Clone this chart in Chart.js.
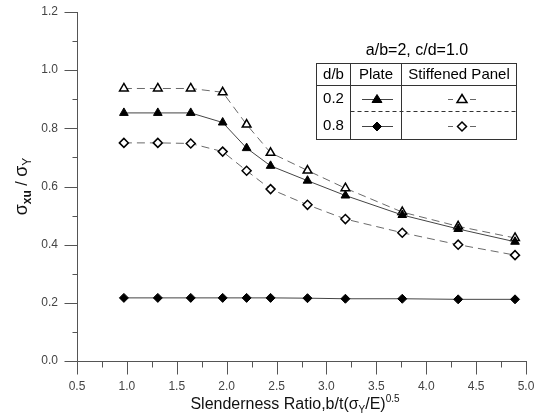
<!DOCTYPE html>
<html>
<head>
<meta charset="utf-8">
<script src="https://cdn.jsdelivr.net/npm/chart.js@4.4.0/dist/chart.umd.min.js"></script>
<style>
  html, body { margin: 0; padding: 0; background: #fff; }
</style>
</head>
<body>
<canvas id="myChart" width="534" height="418"></canvas>
<script>
// slenderness ratio b/t*sqrt(sy/E) of each analysis case
const slenderness = [0.97, 1.31, 1.64, 1.96, 2.20, 2.44, 2.81, 3.19, 3.76, 4.32, 4.89]
// ultimate strength sxu/sy
const plate02 = [0.853, 0.853, 0.853, 0.82, 0.732, 0.671, 0.62, 0.569, 0.502, 0.454, 0.41]
const panel02 = [0.937, 0.937, 0.937, 0.924, 0.813, 0.716, 0.655, 0.594, 0.512, 0.463, 0.423]
const plate08 = [0.217, 0.217, 0.217, 0.217, 0.217, 0.217, 0.216, 0.214, 0.214, 0.212, 0.212]
const panel08 = [0.75, 0.75, 0.748, 0.72, 0.654, 0.591, 0.537, 0.488, 0.441, 0.40, 0.364]

const xTicks = [0.5, 1.0, 1.5, 2.0, 2.5, 3.0, 3.5, 4.0, 4.5, 5.0]
const yTicks = [0.0, 0.2, 0.4, 0.6, 0.8, 1.0, 1.2]

const FONT = '"Liberation Sans", Arial, sans-serif'

function pts(ys) {
  return slenderness.map((x, i) => ({ x: x, y: ys[i] }))
}

function series(label, ys, style, filled, dashed) {
  return {
    label: label,
    data: pts(ys),
    borderColor: dashed ? '#6a6a6a' : '#444',
    borderWidth: 1,
    borderDash: dashed ? [8, 5] : [],
    pointStyle: style,
    pointRadius: style === 'triangle' ? 5 : 4.5,
    pointBackgroundColor: filled ? '#000' : '#fff',
    pointBorderColor: '#000',
    pointBorderWidth: filled ? 1 : 1.5,
    tension: 0,
  }
}

// axis lines with long major and short minor ticks
const axesPlugin = {
  id: 'axes',
  afterDraw(chart) {
    const ctx = chart.ctx
    const xs = chart.scales.x, ys = chart.scales.y
    const area = chart.chartArea
    const x0 = Math.round(area.left) + 0.5
    const y0 = Math.round(area.bottom) + 0.5
    ctx.save()
    ctx.strokeStyle = '#555'
    ctx.lineWidth = 1
    ctx.beginPath()
    ctx.moveTo(x0, Math.round(area.top))
    ctx.lineTo(x0, y0)
    ctx.lineTo(Math.round(area.right) + 1, y0)
    for (let v = 0; v <= 1.2001; v += 0.1) {
      const p = Math.round(ys.getPixelForValue(v)) + 0.5
      const major = Math.round(v * 10) % 2 === 0
      ctx.moveTo(x0 - (major ? 13 : 5), p)
      ctx.lineTo(x0, p)
    }
    for (let v = 0.5; v <= 5.0001; v += 0.25) {
      const p = Math.round(xs.getPixelForValue(v)) + 0.5
      const major = Math.round(v * 4) % 2 === 0
      ctx.moveTo(p, y0)
      ctx.lineTo(p, y0 + (major ? 13 : 6))
    }
    ctx.stroke()
    ctx.restore()
  },
}

// draws a run of text pieces: [text, size, dy, bold]
function drawRuns(ctx, runs, cx, baseline) {
  let total = 0
  runs.forEach(r => {
    ctx.font = (r[3] ? 'bold ' : '') + r[1] + 'px ' + FONT
    r.w = ctx.measureText(r[0]).width
    total += r.w
  })
  let x = cx - total / 2
  runs.forEach(r => {
    ctx.font = (r[3] ? 'bold ' : '') + r[1] + 'px ' + FONT
    ctx.fillText(r[0], x, baseline + r[2])
    x += r.w
  })
}

const titlesPlugin = {
  id: 'titles',
  afterDraw(chart) {
    const ctx = chart.ctx
    const area = chart.chartArea
    ctx.save()
    ctx.fillStyle = '#111'
    ctx.textBaseline = 'alphabetic'
    ctx.textAlign = 'left'
    drawRuns(ctx, [
      ['Slenderness Ratio,b/t(', 16, 0],
      ['\u03c3', 16, 0],
      ['Y', 10, 4],
      ['/E)', 16, 0],
      ['0.5', 10, -7],
    ], 295, 409)

    ctx.translate(27, (area.top + area.bottom) / 2)
    ctx.rotate(-Math.PI / 2)
    drawRuns(ctx, [
      ['\u03c3', 18, 0],
      ['xu', 12, 4, true],
      [' / ', 16, 0],
      ['\u03c3', 18, 0],
      ['Y', 12, 4],
    ], 0, 0)
    ctx.restore()
  },
}

function marker(ctx, style, x, y, filled) {
  ctx.save()
  ctx.fillStyle = filled ? '#000' : '#fff'
  ctx.strokeStyle = '#000'
  ctx.lineWidth = filled ? 1 : 1.5
  ctx.setLineDash([])
  ctx.beginPath()
  if (style === 'triangle') {
    const r = 5
    ctx.moveTo(x, y - r)
    ctx.lineTo(x + r * 0.866 * 1.15, y + r * 0.6)
    ctx.lineTo(x - r * 0.866 * 1.15, y + r * 0.6)
  } else {
    const r = 4.5
    ctx.moveTo(x, y - r)
    ctx.lineTo(x + r, y)
    ctx.lineTo(x, y + r)
    ctx.lineTo(x - r, y)
  }
  ctx.closePath()
  ctx.fill()
  ctx.stroke()
  ctx.restore()
}

// table-style legend in the upper right
const tablePlugin = {
  id: 'tableLegend',
  afterDraw(chart) {
    const ctx = chart.ctx
    const L = 316.5, R = 516.5, T = 63.5, B = 139.5
    const c1 = 350.5, c2 = 401.5, h1 = 85.5, h2 = 111.5
    ctx.save()
    ctx.fillStyle = '#000'
    ctx.textAlign = 'center'
    ctx.textBaseline = 'middle'
    ctx.font = '16px ' + FONT
    ctx.fillText('a/b=2, c/d=1.0', 417, 51)

    ctx.strokeStyle = '#333'
    ctx.lineWidth = 1
    ctx.strokeRect(L, T, R - L, B - T)
    ctx.beginPath()
    ctx.moveTo(c1, T); ctx.lineTo(c1, B)
    ctx.moveTo(c2, T); ctx.lineTo(c2, B)
    ctx.moveTo(L, h1); ctx.lineTo(R, h1)
    ctx.stroke()
    ctx.setLineDash([4, 3])
    ctx.beginPath()
    ctx.moveTo(c1, h2); ctx.lineTo(R, h2)
    ctx.stroke()
    ctx.setLineDash([])

    ctx.font = '15px ' + FONT
    ctx.fillText('d/b', (L + c1) / 2, 75)
    ctx.fillText('Plate', (c1 + c2) / 2, 75)
    ctx.fillText('Stiffened Panel', (c2 + R) / 2, 75)

    const rows = [['0.2', 'triangle', 99], ['0.8', 'rectRot', 126]]
    rows.forEach(row => {
      const y = row[2]
      ctx.fillStyle = '#000'
      ctx.fillText(row[0], (L + c1) / 2, y)
      ctx.strokeStyle = '#444'
      ctx.beginPath()
      ctx.moveTo(362, y + 0.5); ctx.lineTo(393, y + 0.5)
      ctx.stroke()
      marker(ctx, row[1], 377, y + 0.5, true)
      ctx.strokeStyle = '#666'
      ctx.beginPath()
      ctx.moveTo(448, y + 0.5); ctx.lineTo(453, y + 0.5)
      ctx.moveTo(470, y + 0.5); ctx.lineTo(476, y + 0.5)
      ctx.stroke()
      marker(ctx, row[1], 462, y + 0.5, false)
    })
    ctx.restore()
  },
}

window.onload = function () {
  const ctx = document.getElementById('myChart')

  const myChart = new Chart(ctx, {
    type: 'line',
    data: {
      datasets: [
        series('Plate d/b=0.2', plate02, 'triangle', true, false),
        series('Stiffened Panel d/b=0.2', panel02, 'triangle', false, true),
        series('Plate d/b=0.8', plate08, 'rectRot', true, false),
        series('Stiffened Panel d/b=0.8', panel08, 'rectRot', false, true),
      ],
    },
    options: {
      responsive: false,
      animation: false,
      devicePixelRatio: 1,
      layout: { padding: { top: 12, right: 8, left: 0, bottom: 0 } },
      plugins: {
        legend: { display: false },
        tooltip: { enabled: false },
      },
      scales: {
        x: {
          type: 'linear',
          min: xTicks[0],
          max: xTicks[xTicks.length - 1],
          afterBuildTicks: s => { s.ticks = xTicks.map(v => ({ value: v })) },
          afterFit: s => {
            s.height = 57
            s.paddingLeft = 0
            s.paddingRight = 0
          },
          grid: { display: false, drawTicks: false },
          border: { display: false },
          ticks: {
            padding: 18,
            color: '#444',
            font: { family: FONT, size: 12 },
            maxRotation: 0,
            callback: v => v.toFixed(1),
          },
        },
        y: {
          min: yTicks[0],
          max: yTicks[yTicks.length - 1],
          afterBuildTicks: s => { s.ticks = yTicks.map(v => ({ value: v })) },
          afterFit: s => {
            s.width = 77
            s.paddingTop = 0
            s.paddingBottom = 0
          },
          grid: { display: false, drawTicks: false },
          border: { display: false },
          ticks: {
            padding: 19,
            color: '#444',
            font: { family: FONT, size: 12 },
            callback: v => v.toFixed(1),
          },
        },
      },
    },
    plugins: [axesPlugin, titlesPlugin, tablePlugin],
  })
}
</script>
</body>
</html>
